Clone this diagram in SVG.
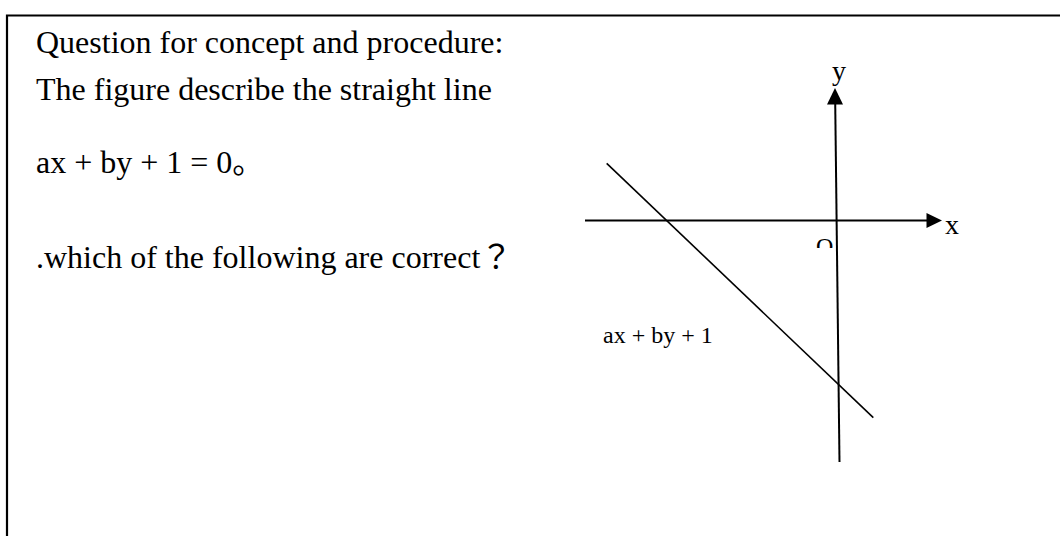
<svg xmlns="http://www.w3.org/2000/svg" width="1060" height="536" viewBox="0 0 1060 536">
<style>
  .t { font-family: "Liberation Serif", "Noto Sans CJK SC", serif; fill: #000; }
  .tc { font-family: "Noto Sans CJK TC", "Noto Sans CJK JP", sans-serif; }
  .main { font-size: 32px; }
  .lbl { font-size: 24px; }
  .ax { font-size: 28px; }
  .axis { stroke: #000; stroke-width: 2; fill: none; }
  .thin { stroke: #000; stroke-width: 1.6; fill: none; }
  .frame { stroke: #000; stroke-width: 2.2; fill: none; }
</style>
<defs>
  <clipPath id="oclip"><rect x="800" y="230" width="40" height="18"/></clipPath>
</defs>
<rect width="1060" height="536" fill="#fff"/>
<g id="frame">
  <path class="frame" d="M7,537 V15.5 H1061"/>
</g>
<g id="question">
  <text class="t main" x="36" y="53">Question for concept and procedure:</text>
  <text class="t main" x="36" y="100">The figure describe the straight line</text>
  <text class="t main" x="36" y="173">ax + by + 1 = 0。</text>
  <text class="t main" x="36" y="268">.which of the following are correct<tspan class="tc">？</tspan></text>
</g>
<g id="connectors">
  <line class="axis" x1="585" y1="220.5" x2="928" y2="220.5"/>
  <polygon points="942,220.5 926.5,213 926.5,228" fill="#000"/>
  <line class="axis" x1="839.5" y1="462" x2="835.2" y2="102"/>
  <polygon points="835,88 827,104.5 843,104.5" fill="#000"/>
  <line class="thin" x1="606.7" y1="163.3" x2="873.3" y2="417.7"/>
</g>
<g id="label-x"><text class="t ax" x="945" y="233.5">x</text></g>
<g id="label-y"><text class="t ax" x="832" y="79.5">y</text></g>
<g id="label-o" clip-path="url(#oclip)"><text class="t lbl" x="816" y="254">O</text></g>
<g id="label-line"><text class="t lbl" x="603" y="343.3">ax + by + 1</text></g>
</svg>
